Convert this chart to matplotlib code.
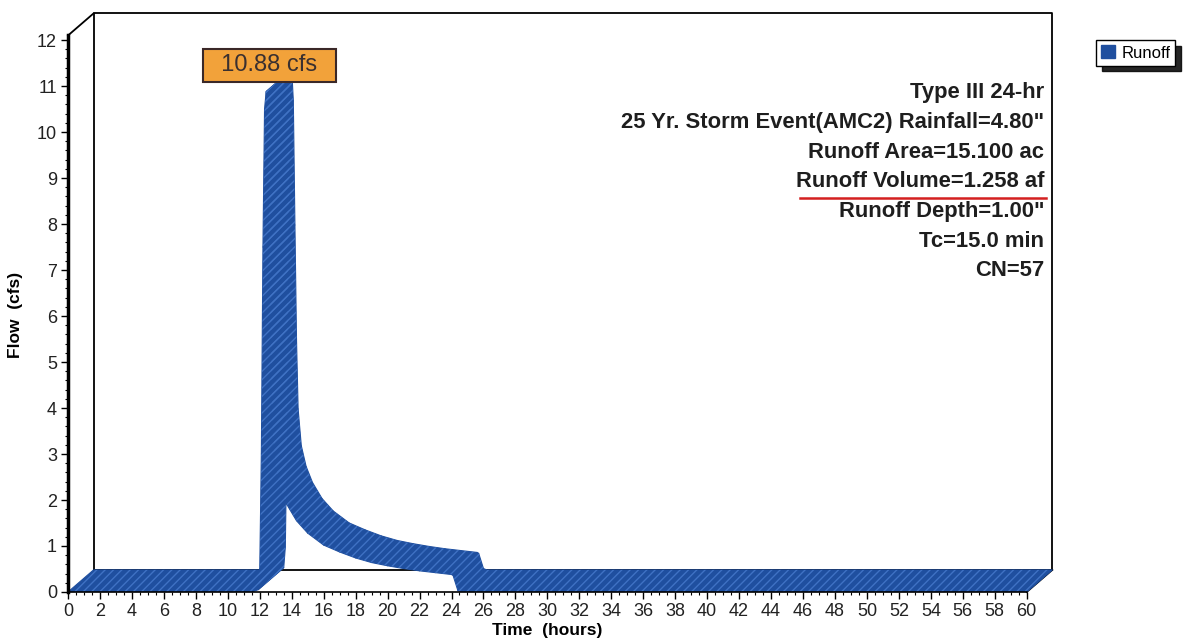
import matplotlib
matplotlib.use('Agg')
import numpy as np
import matplotlib.pyplot as plt
from matplotlib.collections import PolyCollection
from matplotlib.patches import Patch
from matplotlib.ticker import FixedLocator

plt.rcParams['font.family'] = ['Liberation Sans', 'DejaVu Sans']

# hydrograph (hours, cfs)
time_hr = [0, 11.5, 11.9, 12.0, 12.1, 12.2, 12.3, 12.4, 12.5, 12.6, 12.7, 12.8,
           13.0, 13.3, 13.7, 14.3, 15.0, 16.0, 17.0, 18.0, 19.0, 20.0, 21.0,
           22.0, 23.0, 24.0, 24.1, 24.4, 24.6, 60]
flow_cfs = [0, 0, 0.05, 0.5, 3.0, 7.5, 10.5, 10.88, 10.2, 7.5, 5.0, 3.5,
            2.7, 2.25, 1.9, 1.55, 1.28, 1.02, 0.87, 0.74, 0.64, 0.57, 0.51,
            0.46, 0.42, 0.38, 0.36, 0.03, 0, 0]

series_name = 'Runoff'
peak_label = '10.88 cfs'
info_lines = ['Type III 24-hr',
              '25 Yr. Storm Event(AMC2) Rainfall=4.80"',
              'Runoff Area=15.100 ac',
              'Runoff Volume=1.258 af',
              'Runoff Depth=1.00"',
              'Tc=15.0 min',
              'CN=57']
x_ticks = list(range(0, 61, 2))
y_ticks = list(range(0, 13))

blue = '#1f4f9f'
hatch_blue = '#3f72c4'
ddx, ddy = 1.6, 0.48   # fake 3d depth
ytop = 12.1

fig = plt.figure(figsize=(11.85, 6.42), dpi=100)
ax = fig.add_axes([0.0574, 0.0779, 0.836, 0.917])
ax.set_xlim(0, 62)
ax.set_ylim(0, 12.8)

# back wall
kw = dict(color='black', lw=1.3, zorder=1, clip_on=False)
ax.plot([ddx, 60 + ddx, 60 + ddx, ddx, ddx],
        [ddy, ddy, ytop + ddy, ytop + ddy, ddy], **kw)
ax.plot([0, ddx], [ytop, ytop + ddy], **kw)
ax.plot([60, 60 + ddx], [0, ddy], **kw)

# ribbon: extrude each segment backwards
quads = []
for i in range(len(time_hr) - 1):
    t0, t1 = time_hr[i], time_hr[i + 1]
    q0, q1 = flow_cfs[i], flow_cfs[i + 1]
    quads.append([(t0, q0), (t1, q1), (t1 + ddx, q1 + ddy), (t0 + ddx, q0 + ddy)])
ax.add_collection(PolyCollection(quads, facecolors=blue, edgecolors=blue,
                                 linewidths=0.8, zorder=2))
ax.add_collection(PolyCollection(quads, facecolors='none', edgecolors=hatch_blue,
                                 linewidths=0, hatch='////', zorder=2.1))

for s in ['top', 'right']:
    ax.spines[s].set_visible(False)
ax.spines['left'].set_bounds(0, ytop)
ax.spines['left'].set_linewidth(2.5)
ax.spines['bottom'].set_bounds(0, 60)
ax.spines['bottom'].set_linewidth(1.2)
for s in ['left', 'bottom']:
    ax.spines[s].set_zorder(3)

ax.set_xticks(x_ticks)
ax.set_yticks(y_ticks)
ax.xaxis.set_minor_locator(FixedLocator(np.arange(0, 60.01, 0.5)))
ax.yaxis.set_minor_locator(FixedLocator(np.arange(0, 12.01, 0.2)))
ax.tick_params(which='major', length=5, width=1, labelsize=13, pad=3,
               labelcolor='#222222')
ax.tick_params(which='minor', length=2.5, width=0.8)

ax.set_xlabel('Time  (hours)', fontsize=12.5, fontweight='bold')
ax.xaxis.set_label_coords(30 / 62, -0.052)
ax.set_ylabel('Flow  (cfs)', fontsize=12.5, fontweight='bold')
ax.yaxis.set_label_coords(-0.045, 0.47)

# peak label
ax.text(12.6, 11.45, '  ' + peak_label + '  ', ha='center', va='center',
        fontsize=17, color='#3a3030', zorder=5,
        bbox=dict(boxstyle='square,pad=0.22', facecolor='#f2a23a',
                  edgecolor='#3a2828', lw=1.5))

# storm info
for i, line in enumerate(info_lines):
    ax.text(61.1, 10.85 - i * 0.645, line, ha='right', va='center',
            fontsize=15.8, fontweight='bold', color='#1e1e1e', zorder=5)
ax.plot([45.8, 61.2], [8.56, 8.56], color='#d42020', lw=1.8, zorder=5)

fig.legend(handles=[Patch(facecolor=blue, edgecolor=blue, label=series_name)],
           loc='upper left', bbox_to_anchor=(1088 / 1185, 1 - 32 / 642),
           frameon=True, fancybox=False,
           shadow={'color': 'black', 'alpha': 0.85, 'ox': 4, 'oy': -4},
           edgecolor='black', framealpha=1, fontsize=12, handlelength=0.8,
           handleheight=0.8, borderpad=0.3, handletextpad=0.4)

fig.savefig('out.png', dpi=100)
